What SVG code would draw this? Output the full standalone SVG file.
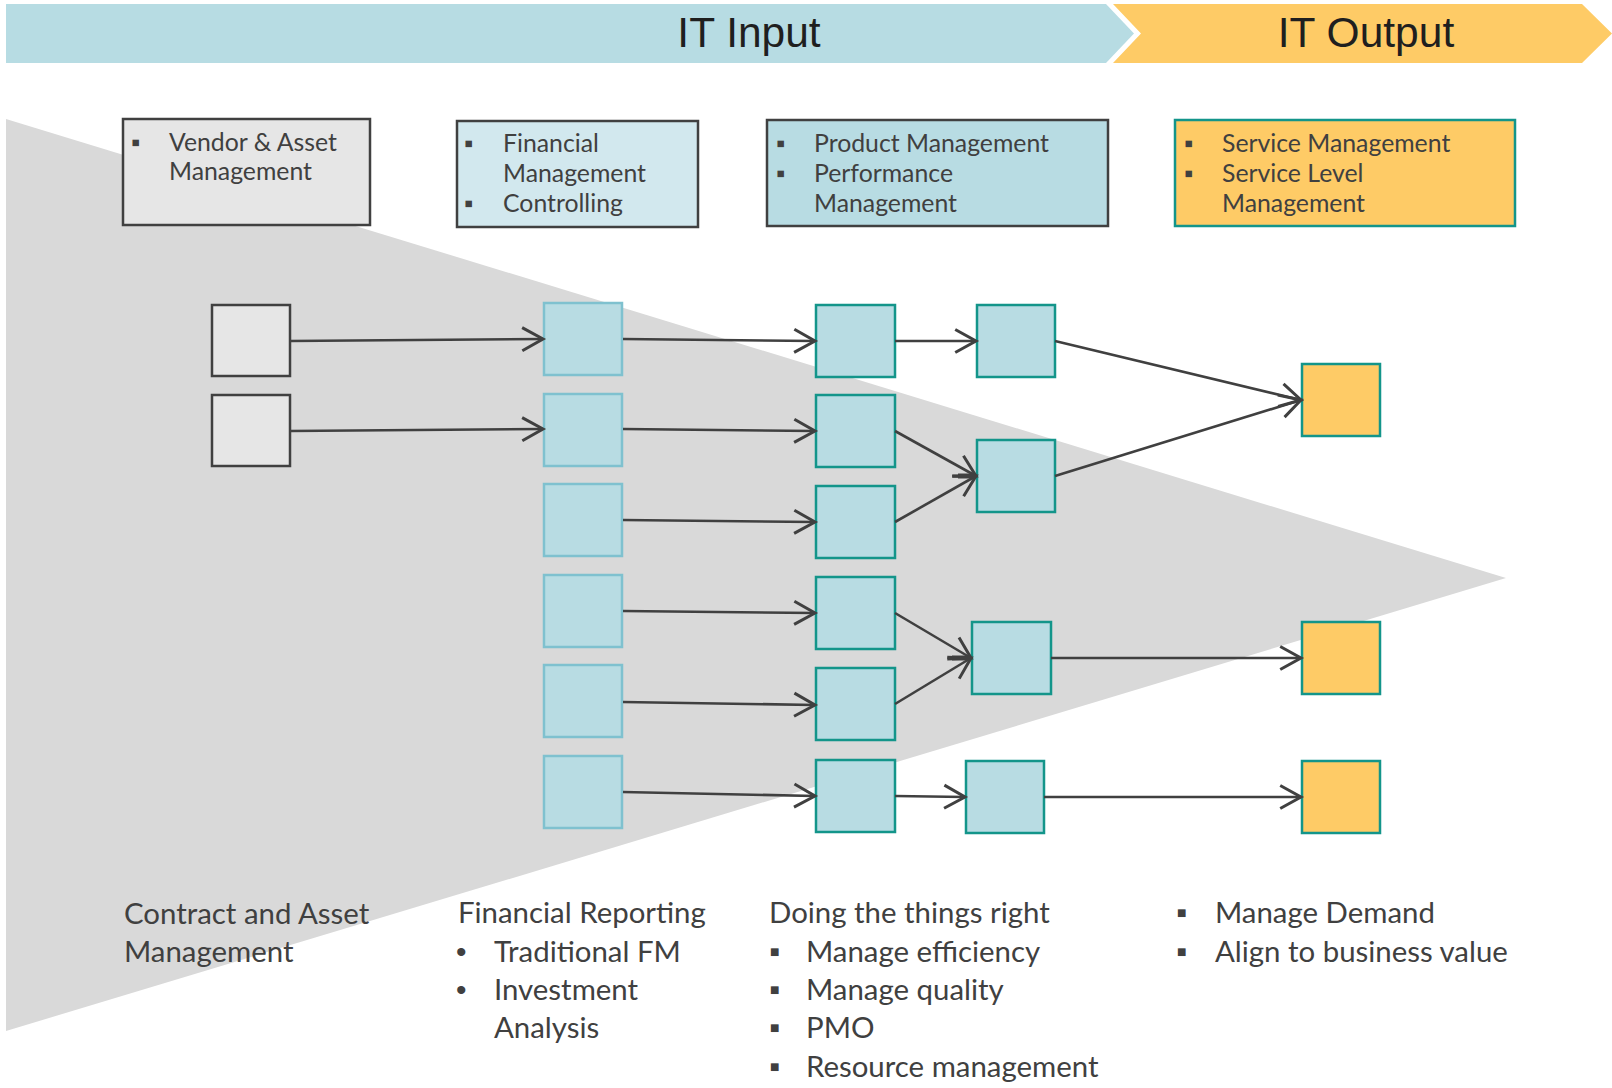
<svg xmlns="http://www.w3.org/2000/svg" width="1612" height="1088" viewBox="0 0 1612 1088">
  <defs>
    <marker id="arrow" markerUnits="userSpaceOnUse" markerWidth="30" markerHeight="30" viewBox="-22 -12 26 24" refX="0" refY="0" orient="auto">
      <path d="M -18 -10 L 0 0 L -18 10" fill="none" stroke="#404040" stroke-width="2.6" stroke-linejoin="miter"/>
    </marker>
    <style>
      .banner { font-family: "Liberation Sans", Arial, sans-serif; font-size: 42.5px; fill: #1f1f1f; text-anchor: middle; }
      .hdr { font-family: Lato, "Liberation Sans", sans-serif; font-size: 24.8px; fill: #404040; }
      .foot { font-family: Lato, "Liberation Sans", sans-serif; font-size: 29.4px; fill: #404040; }
      .sq { font-family: "Liberation Sans", Arial, sans-serif; fill: #404040; }
      .node-gray { fill: #e6e6e6; stroke: #404040; stroke-width: 2.5; }
      .node-in { fill: #b8dce3; stroke: #7fc1cf; stroke-width: 2.5; }
      .node-mid { fill: #b8dce3; stroke: #13958a; stroke-width: 2.5; }
      .node-out { fill: #fecb66; stroke: #13958a; stroke-width: 2.5; }
      .conn { fill: none; stroke: #404040; stroke-width: 2.6; marker-end: url(#arrow); }
      .stub { fill: none; stroke: #404040; stroke-width: 5; }
    </style>
  </defs>

  <rect width="1612" height="1088" fill="#ffffff"/>

  <!-- phase banner -->
  <g id="banner-input">
    <polygon points="6,4 1106,4 1134,33.5 1106,63 6,63" fill="#b7dce3"/>
    <text class="banner" x="749" y="47">IT Input</text>
  </g>
  <g id="banner-output">
    <polygon points="1113,4 1582,4 1612,33.5 1582,63 1113,63 1141,33.5" fill="#fecb66"/>
    <text class="banner" x="1366" y="47">IT Output</text>
  </g>

  <!-- funnel background -->
  <polygon id="funnel" points="6,119 1506,578 6,1031" fill="#d9d9d9"/>

  <!-- column headers -->
  <g id="hdr-vendor">
    <rect x="123" y="119" width="247" height="106" fill="#e6e6e6" stroke="#404040" stroke-width="2.5"/>
    <text class="sq" x="131" y="151" font-size="26">▪</text>
    <text class="hdr" x="169" y="151">Vendor &amp; Asset</text>
    <text class="hdr" x="169" y="180">Management</text>
  </g>
  <g id="hdr-financial">
    <rect x="457" y="121" width="241" height="106" fill="#d2e8ee" stroke="#404040" stroke-width="2.5"/>
    <text class="sq" x="464" y="152" font-size="26">▪</text>
    <text class="hdr" x="503" y="152">Financial</text>
    <text class="hdr" x="503" y="182">Management</text>
    <text class="sq" x="464" y="212" font-size="26">▪</text>
    <text class="hdr" x="503" y="212">Controlling</text>
  </g>
  <g id="hdr-product">
    <rect x="767" y="120" width="341" height="106" fill="#b8dce3" stroke="#404040" stroke-width="2.5"/>
    <text class="sq" x="776" y="152" font-size="26">▪</text>
    <text class="hdr" x="814" y="152">Product Management</text>
    <text class="sq" x="776" y="182" font-size="26">▪</text>
    <text class="hdr" x="814" y="182">Performance</text>
    <text class="hdr" x="814" y="212">Management</text>
  </g>
  <g id="hdr-service">
    <rect x="1175" y="120" width="340" height="106" fill="#fecb66" stroke="#13958a" stroke-width="2.5"/>
    <text class="sq" x="1184" y="152" font-size="26">▪</text>
    <text class="hdr" x="1222" y="152">Service Management</text>
    <text class="sq" x="1184" y="182" font-size="26">▪</text>
    <text class="hdr" x="1222" y="182">Service Level</text>
    <text class="hdr" x="1222" y="212">Management</text>
  </g>

  <!-- contract nodes -->
  <g id="g1"><rect class="node-gray" x="212" y="305" width="78" height="71"/></g>
  <g id="g2"><rect class="node-gray" x="212" y="395" width="78" height="71"/></g>

  <!-- financial nodes -->
  <g id="f1"><rect class="node-in" x="544" y="303" width="78" height="72"/></g>
  <g id="f2"><rect class="node-in" x="544" y="394" width="78" height="72"/></g>
  <g id="f3"><rect class="node-in" x="544" y="484" width="78" height="72"/></g>
  <g id="f4"><rect class="node-in" x="544" y="575" width="78" height="72"/></g>
  <g id="f5"><rect class="node-in" x="544" y="665" width="78" height="72"/></g>
  <g id="f6"><rect class="node-in" x="544" y="756" width="78" height="72"/></g>

  <!-- product nodes -->
  <g id="p1"><rect class="node-mid" x="816" y="305" width="79" height="72"/></g>
  <g id="p2"><rect class="node-mid" x="816" y="395" width="79" height="72"/></g>
  <g id="p3"><rect class="node-mid" x="816" y="486" width="79" height="72"/></g>
  <g id="p4"><rect class="node-mid" x="816" y="577" width="79" height="72"/></g>
  <g id="p5"><rect class="node-mid" x="816" y="668" width="79" height="72"/></g>
  <g id="p6"><rect class="node-mid" x="816" y="760" width="79" height="72"/></g>

  <!-- performance nodes -->
  <g id="q1"><rect class="node-mid" x="977" y="305" width="78" height="72"/></g>
  <g id="q2"><rect class="node-mid" x="977" y="440" width="78" height="72"/></g>
  <g id="q3"><rect class="node-mid" x="972" y="622" width="79" height="72"/></g>
  <g id="q4"><rect class="node-mid" x="966" y="761" width="78" height="72"/></g>

  <!-- service nodes -->
  <g id="s1"><rect class="node-out" x="1302" y="364" width="78" height="72"/></g>
  <g id="s2"><rect class="node-out" x="1302" y="622" width="78" height="72"/></g>
  <g id="s3"><rect class="node-out" x="1302" y="761" width="78" height="72"/></g>

  <!-- connectors -->
  <g id="connectors">
    <path class="conn" d="M 290 341 L 543 339"/>
    <path class="conn" d="M 290 431 L 543 429"/>

    <path class="conn" d="M 623 339 L 815 341"/>
    <path class="conn" d="M 623 429 L 815 431"/>
    <path class="conn" d="M 623 520 L 815 522"/>
    <path class="conn" d="M 623 611 L 815 613"/>
    <path class="conn" d="M 623 702 L 815 705"/>
    <path class="conn" d="M 623 792 L 815 796"/>

    <path class="conn" d="M 895 341 L 976 341"/>
    <path class="conn" d="M 895 431 L 976 476"/>
    <path class="conn" d="M 895 522 L 976 476"/>
    <path class="stub" d="M 958 476 L 975 476"/>

    <path class="conn" d="M 895 613 L 971 658"/>
    <path class="conn" d="M 895 704 L 971 658"/>
    <path class="stub" d="M 952 658 L 970 658"/>

    <path class="conn" d="M 895 796 L 965 797"/>

    <path class="conn" d="M 1055 341 L 1301 400"/>
    <path class="conn" d="M 1055 476 L 1301 400"/>
    <path class="conn" d="M 1051 658 L 1301 658"/>
    <path class="conn" d="M 1044 797 L 1301 797"/>
  </g>

  <!-- column captions -->
  <g id="cap-contract">
    <text class="foot" x="124" y="924">Contract and Asset</text>
    <text class="foot" x="124" y="962">Management</text>
  </g>
  <g id="cap-financial">
    <text class="foot" x="458" y="923">Financial Reporting</text>
    <text class="sq" x="456" y="962" font-size="30">•</text>
    <text class="foot" x="494" y="962">Traditional FM</text>
    <text class="sq" x="456" y="1000" font-size="30">•</text>
    <text class="foot" x="494" y="1000">Investment</text>
    <text class="foot" x="494" y="1038">Analysis</text>
  </g>
  <g id="cap-product">
    <text class="foot" x="769" y="923">Doing the things right</text>
    <text class="sq" x="769" y="962" font-size="31">▪</text>
    <text class="foot" x="806" y="962">Manage efficiency</text>
    <text class="sq" x="769" y="1000" font-size="31">▪</text>
    <text class="foot" x="806" y="1000">Manage quality</text>
    <text class="sq" x="769" y="1038" font-size="31">▪</text>
    <text class="foot" x="806" y="1038">PMO</text>
    <text class="sq" x="769" y="1077" font-size="31">▪</text>
    <text class="foot" x="806" y="1077">Resource management</text>
  </g>
  <g id="cap-service">
    <text class="sq" x="1176" y="923" font-size="31">▪</text>
    <text class="foot" x="1215" y="923">Manage Demand</text>
    <text class="sq" x="1176" y="962" font-size="31">▪</text>
    <text class="foot" x="1215" y="962">Align to business value</text>
  </g>
</svg>
